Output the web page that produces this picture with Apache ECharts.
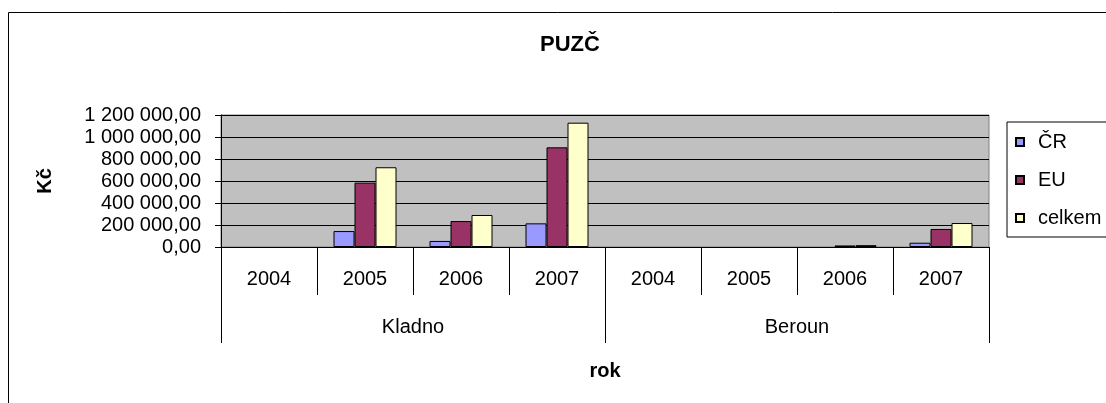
<!DOCTYPE html>
<html>
<head>
<meta charset="utf-8">
<script src="https://cdn.jsdelivr.net/npm/echarts@6/dist/echarts.min.js"></script>
<style>
  html, body { margin: 0; padding: 0; background: #fff; }
  #chart { width: 1106px; height: 403px; }
</style>
</head>
<body>
<div id="chart"></div>
<script>
// values
const years = ['2004', '2005', '2006', '2007', '2004', '2005', '2006', '2007'];
const towns = ['Kladno', 'Beroun'];
const cr = [0, 145000, 55000, 215000, 0, 0, 0, 39000];
const eu = [0, 585000, 236000, 906000, 0, 0, 14000, 164000];
const celkem = [0, 725000, 291000, 1130000, 0, 0, 17000, 218000];
const yTicks = [0, 200000, 400000, 600000, 800000, 1000000, 1200000];

const font = 'Liberation Sans, Arial, sans-serif';

function fmt(v) {
  const s = Math.round(v).toString().replace(/\B(?=(\d{3})+(?!\d))/g, ' ');
  return s + ',00';
}

// zero values draw nothing (no border line)
const bars = (arr) => arr.map(v => v === 0 ? { value: 0, itemStyle: { borderWidth: 0 } } : v);

const chart = echarts.init(document.getElementById('chart'), null, { renderer: 'canvas' });

const barStyle = (color) => ({ color: color, borderColor: '#000', borderWidth: 1 });

chart.setOption({
  animation: false,
  textStyle: { fontFamily: font },
  title: {
    text: 'PUZČ',
    left: 565, top: 29, textAlign: 'center',
    textStyle: { fontSize: 22, fontWeight: 'bold', color: '#000', fontFamily: font }
  },
  graphic: [{
    type: 'rect', shape: { x: 8.5, y: 12.5, width: 1200, height: 500 },
    style: { fill: 'none', stroke: '#000', lineWidth: 1 }, silent: true
  }],
  legend: {
    orient: 'vertical', left: 1007, top: 122,
    itemWidth: 8, itemHeight: 8, itemGap: 18,
    padding: [10, 20, 9, 8],
    borderColor: '#000', borderWidth: 1,
    icon: 'rect',
    textStyle: { fontSize: 20, color: '#000', fontFamily: font, padding: [0, 0, 0, 9] },
    data: ['ČR', 'EU', 'celkem']
  },
  grid: {
    left: 221, right: 1106 - 989, top: 115, bottom: 403 - 247,
    show: true, backgroundColor: '#c0c0c0', borderColor: '#808080', borderWidth: 1
  },
  xAxis: [{
    type: 'category', data: years, position: 'bottom',
    axisLine: { lineStyle: { color: '#000' } },
    axisTick: { show: true, length: 48, lineStyle: { color: '#000' } },
    axisLabel: { fontSize: 20, color: '#000', margin: 22, fontFamily: font },
    name: 'rok', nameLocation: 'middle', nameGap: 114,
    nameTextStyle: { fontSize: 20, fontWeight: 'bold', color: '#000', fontFamily: font }
  }, {
    type: 'category', data: towns, position: 'bottom',
    axisLine: { show: false },
    axisTick: { show: true, length: 96, lineStyle: { color: '#000' } },
    axisLabel: { fontSize: 20, color: '#000', margin: 70, fontFamily: font }
  }],
  yAxis: {
    type: 'value', min: 0, max: 1200000, interval: 200000,
    axisLine: { show: true, lineStyle: { color: '#000' } },
    axisTick: { show: true, length: 6, lineStyle: { color: '#000' } },
    splitLine: { lineStyle: { color: '#000' } },
    axisLabel: {
      fontSize: 20, color: '#000', margin: 20, fontFamily: font,
      formatter: (v) => yTicks.includes(v) ? fmt(v) : ''
    },
    name: 'Kč', nameLocation: 'middle', nameGap: 166, nameRotate: 90,
    nameTextStyle: { fontSize: 20, fontWeight: 'bold', color: '#000', fontFamily: font }
  },
  series: [
    { name: 'ČR', type: 'bar', data: bars(cr), barWidth: 21, barGap: '0%', itemStyle: barStyle('#9999ff') },
    { name: 'EU', type: 'bar', data: bars(eu), barWidth: 21, barGap: '0%', itemStyle: barStyle('#993366') },
    { name: 'celkem', type: 'bar', data: bars(celkem), barWidth: 21, barGap: '0%', itemStyle: barStyle('#ffffcc') }
  ]
});
</script>
</body>
</html>
